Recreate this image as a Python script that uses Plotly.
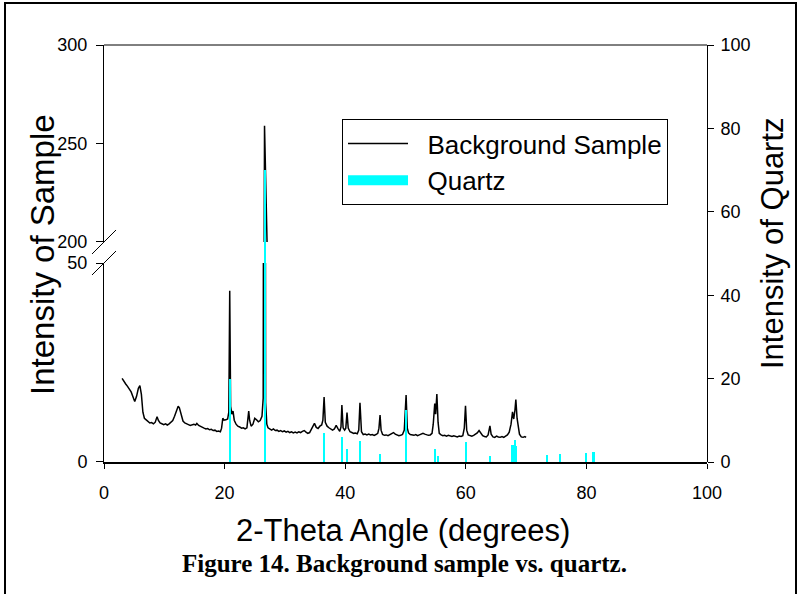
import plotly.graph_objects as go

# ---------------- data ----------------
sample_theta = [3.0, 3.3, 3.6, 3.9, 4.2, 4.5, 4.8, 5.1, 5.4, 5.7, 5.95, 6.2, 6.45, 6.7, 7.0, 7.3, 7.6, 7.9,
                8.2, 8.5, 8.8, 9.0, 9.3, 9.6, 9.9, 10.2, 10.5, 10.8, 11.1, 11.4, 11.7, 12.0, 12.3, 12.5,
                12.8, 13.1, 13.4, 13.7, 14.0, 14.3, 14.6, 14.9, 15.2, 15.4, 15.7, 16.0, 16.3, 16.6, 16.9,
                17.2, 17.5, 17.8, 18.1, 18.4, 18.7, 19.0, 19.3, 19.5, 19.7, 19.9, 20.2, 20.5, 20.7, 20.85,
                21.0, 21.2, 21.4, 21.6, 21.9, 22.2, 22.5, 22.8, 23.1, 23.4, 23.7, 23.9, 24.0, 24.15, 24.4,
                24.7, 25.0, 25.3, 25.6, 25.9, 26.2, 26.4, 26.62, 26.8, 27.0, 27.2, 27.5, 27.8, 28.1, 28.4,
                28.7, 29.0, 29.3, 29.6, 29.9, 30.2, 30.5, 30.8, 31.1, 31.4, 31.7, 32.0, 32.3, 32.6, 32.9,
                33.2, 33.5, 33.8, 34.1, 34.4, 34.7, 34.9, 35.2, 35.5, 35.8, 36.1, 36.3, 36.5, 36.7, 37.0,
                37.3, 37.6, 37.9, 38.2, 38.5, 38.8, 39.1, 39.3, 39.45, 39.65, 39.9, 40.1, 40.3, 40.5, 40.8,
                41.1, 41.4, 41.7, 42.0, 42.25, 42.45, 42.7, 43.0, 43.3, 43.6, 43.9, 44.2, 44.5, 44.8, 45.1,
                45.4, 45.6, 45.78, 45.95, 46.2, 46.5, 46.8, 47.1, 47.4, 47.7, 48.0, 48.3, 48.6, 48.9, 49.2,
                49.5, 49.8, 50.1, 50.3, 50.5, 50.8, 51.1, 51.4, 51.7, 52.0, 52.3, 52.6, 52.9, 53.2, 53.5,
                53.8, 54.1, 54.4, 54.6, 54.85, 55.0, 55.2, 55.4, 55.6, 55.9, 56.2, 56.5, 56.8, 57.1, 57.4,
                57.7, 58.0, 58.3, 58.6, 58.9, 59.2, 59.5, 59.75, 59.95, 60.15, 60.4, 60.7, 61.0, 61.3, 61.6,
                61.9, 62.2, 62.5, 62.8, 63.1, 63.4, 63.7, 63.9, 64.0, 64.2, 64.5, 64.8, 65.1, 65.4, 65.7,
                66.0, 66.3, 66.6, 66.9, 67.2, 67.5, 67.75, 67.95, 68.15, 68.3, 68.5, 68.7, 68.9, 69.2, 69.5,
                69.8, 70.0]
sample_intensity = [21.0, 20.2, 19.6, 19.0, 18.3, 17.6, 16.4, 15.2, 16.5, 18.5, 19.2, 17.0, 12.5, 11.0, 10.6,
                    10.3, 9.8, 9.9, 9.6, 10.0, 11.4, 10.5, 9.8, 9.6, 9.4, 9.6, 9.3, 9.6, 9.9, 10.4, 11.5,
                    13.0, 14.0, 13.6, 11.6, 10.3, 9.8, 9.5, 9.4, 9.2, 9.3, 9.5, 9.3, 9.7, 9.2, 8.9, 8.6, 8.5,
                    8.3, 8.4, 8.1, 8.2, 7.9, 8.0, 7.7, 7.8, 7.6, 8.5, 11.0, 10.5, 10.6, 10.8, 12.5, 43.0,
                    14.0, 12.0, 12.8, 10.5, 9.5, 9.0, 8.8, 8.5, 8.6, 8.3, 8.6, 11.5, 12.8, 10.5, 9.0, 9.5,
                    11.0, 10.6, 10.1, 10.4, 11.5, 16.0, 259.0, 15.0, 9.5, 8.6, 8.2, 8.0, 8.3, 7.9, 8.0, 7.7,
                    7.9, 7.6, 7.8, 7.5, 7.7, 7.4, 7.6, 7.3, 7.5, 7.3, 7.6, 7.4, 7.7, 7.9, 7.5, 7.2, 7.4, 8.2,
                    9.0, 9.7, 8.7, 8.4, 9.0, 9.3, 10.5, 16.3, 10.0, 9.0, 8.6, 8.2, 8.0, 8.3, 9.2, 8.4, 7.7,
                    8.8, 14.3, 8.6, 8.0, 8.5, 12.4, 8.5, 7.6, 7.4, 7.2, 7.3, 7.1, 8.0, 14.9, 7.6, 6.9, 7.0,
                    6.8, 7.0, 6.8, 6.9, 6.7, 6.9, 7.2, 8.5, 11.8, 8.0, 6.9, 6.7, 6.8, 6.6, 6.9, 7.1, 7.4, 7.0,
                    6.8, 6.6, 6.7, 6.9, 8.0, 16.8, 8.5, 7.3, 6.9, 6.8, 6.7, 6.9, 6.6, 6.8, 7.0, 7.2, 7.0, 6.8,
                    6.7, 6.8, 7.2, 9.5, 14.7, 12.0, 17.1, 10.0, 7.2, 6.8, 6.6, 6.7, 6.5, 6.7, 6.6, 6.4, 6.6,
                    6.5, 6.3, 6.5, 6.4, 6.6, 8.5, 14.1, 8.0, 6.8, 6.6, 6.5, 6.7, 6.9, 7.3, 7.9, 7.2, 6.6, 6.4,
                    6.3, 6.8, 8.5, 9.1, 7.0, 6.3, 6.2, 6.5, 6.3, 6.2, 6.4, 6.2, 6.5, 6.8, 7.5, 9.5, 12.6,
                    10.8, 13.0, 15.7, 11.0, 8.5, 7.0, 6.3, 6.2, 6.4, 6.2]

quartz_theta = [20.86, 26.64, 36.54, 39.47, 40.29, 42.45, 45.79, 50.14, 54.87, 55.33, 59.96, 64.03,
                67.74, 68.14, 68.32, 73.47, 75.66, 79.88, 81.17]
quartz_intensity = [20, 70, 7.0, 5.9, 3.0, 5.1, 1.9, 12.5, 3.0, 1.4, 4.9, 1.5, 4.1, 5.3, 3.9, 1.7, 1.8,
                    2.2, 2.4]

x_ticks = [0, 20, 40, 60, 80, 100]
lower_ticks = [0, 50]
upper_ticks = [200, 250, 300]
right_ticks = [0, 20, 40, 60, 80, 100]

# ---------------- layout geometry ----------------
W, H = 800, 594
L, R, T, B = 104, 93, 45, 132
PW, PH = W - L - R, H - T - B
LOW_TOP = 0.4772   # lower segment (0-50) domain top
UP_BOT = 0.5276    # upper segment (200-300) domain bottom

FONT = "Liberation Sans, Arial, sans-serif"
NB = "\u00a0"

fig = go.Figure()

fig.add_trace(go.Scatter(x=sample_theta, y=sample_intensity, mode="lines",
                         line=dict(color="black", width=1.5),
                         name=NB * 2 + "Background Sample", xaxis="x", yaxis="y"))
fig.add_trace(go.Scatter(x=sample_theta, y=sample_intensity, mode="lines",
                         line=dict(color="black", width=1.5),
                         showlegend=False, xaxis="x", yaxis="y2"))
fig.add_trace(go.Bar(x=quartz_theta, y=quartz_intensity, width=0.35,
                     marker=dict(color="#00FFFF", line=dict(width=0)),
                     showlegend=False, xaxis="x", yaxis="y3"))
fig.add_trace(go.Scatter(x=[None], y=[None], mode="lines",
                         line=dict(color="#00FFFF", width=11),
                         name=NB * 2 + "Quartz", xaxis="x", yaxis="y3"))

tick_common = dict(ticks="outside", tickcolor="black", tickwidth=1,
                   showgrid=False, zeroline=False, showline=True, linecolor="black",
                   tickfont=dict(family=FONT, size=18, color="black"))

fig.update_layout(
    width=W, height=H,
    margin=dict(l=L, r=R, t=T, b=B),
    paper_bgcolor="white", plot_bgcolor="rgba(0,0,0,0)",
    showlegend=True,
    bargap=0,
    xaxis=dict(range=[0, 100], tickvals=x_ticks, ticklen=5, linewidth=2,
               ticklabelstandoff=8, anchor="y", **tick_common),
    yaxis=dict(range=[0, 50], tickvals=lower_ticks, ticklen=7, linewidth=1,
               ticklabelstandoff=5,
               domain=[0, LOW_TOP], anchor="x", side="left", **tick_common),
    yaxis2=dict(range=[200, 300], tickvals=upper_ticks, ticklen=7, linewidth=1,
                ticklabelstandoff=5,
                domain=[UP_BOT, 1], anchor="x", side="left", **tick_common),
    yaxis3=dict(range=[0, 100], tickvals=right_ticks, ticklen=6, linewidth=1,
                ticklabelstandoff=3,
                domain=[0, 1], anchor="x", side="right", **tick_common),
    legend=dict(x=(342 - L) / PW, y=(H - B - 119) / PH, xanchor="left", yanchor="top",
                bgcolor="white", bordercolor="black", borderwidth=1,
                font=dict(family=FONT, size=26, color="black"),
                itemwidth=60, traceorder="normal"),
)

def px_x(p):
    return (p - L) / PW

def px_y(p):
    return (H - B - p) / PH

shapes = [
    # top frame line
    dict(type="line", xref="paper", yref="paper", x0=0, x1=1, y0=1, y1=1,
         line=dict(color="black", width=1)),
    # axis break marks
    dict(type="line", xref="paper", yref="paper", x0=px_x(92), x1=px_x(116),
         y0=UP_BOT - 12 / PH, y1=UP_BOT + 12 / PH, line=dict(color="black", width=1)),
    dict(type="line", xref="paper", yref="paper", x0=px_x(92), x1=px_x(116),
         y0=LOW_TOP - 12 / PH, y1=LOW_TOP + 12 / PH, line=dict(color="black", width=1)),
    # outer figure frame
    dict(type="rect", xref="paper", yref="paper", x0=px_x(5), x1=px_x(796),
         y0=px_y(600), y1=px_y(3), line=dict(color="black", width=2)),
]
fig.update_layout(shapes=shapes)

annotations = [
    dict(text="Intensity of Sample", xref="paper", yref="paper", x=px_x(42), y=px_y(255),
         textangle=-90, showarrow=False, xanchor="center", yanchor="middle",
         font=dict(family=FONT, size=33, color="black")),
    dict(text="Intensity of Quartz", xref="paper", yref="paper", x=px_x(772), y=px_y(243),
         textangle=-90, showarrow=False, xanchor="center", yanchor="middle",
         font=dict(family=FONT, size=31, color="black")),
    dict(text="2-Theta Angle (degrees)", xref="paper", yref="paper", x=px_x(403), y=px_y(530),
         showarrow=False, xanchor="center", yanchor="middle",
         font=dict(family=FONT, size=31, color="black")),
    dict(text="<b>Figure 14. Background sample vs. quartz.</b>", xref="paper", yref="paper",
         x=px_x(404), y=px_y(563), showarrow=False, xanchor="center", yanchor="middle",
         font=dict(family="Liberation Serif, Times New Roman, serif", size=25, color="black")),
]
fig.update_layout(annotations=annotations)

fig.write_html("out.html", config={"displayModeBar": False},
               post_script="document.body.style.margin='0';document.body.style.overflow='hidden';")
